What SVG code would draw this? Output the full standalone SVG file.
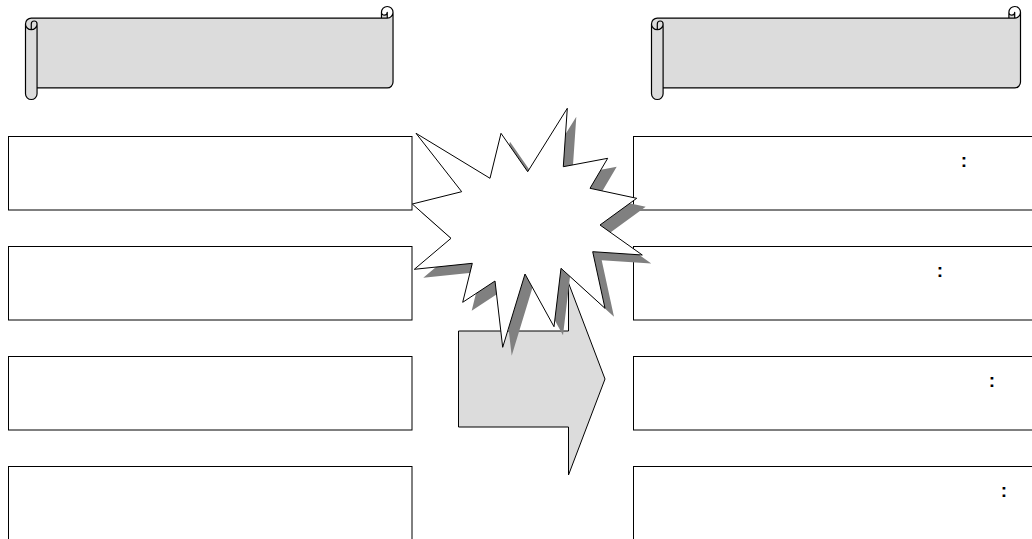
<svg xmlns="http://www.w3.org/2000/svg" width="1032" height="539" viewBox="0 0 1032 539">
<style>
.box{fill:#fff;stroke:#000;stroke-width:1}
.scrollfill{fill:#dcdcdc;stroke:none}
.scrollline{fill:none;stroke:#000;stroke-width:1.2;stroke-linejoin:round}
.gray{fill:#dcdcdc;stroke:#000;stroke-width:1}
.shadow{fill:#808080;stroke:none}
.star{fill:#fff;stroke:#000;stroke-width:1}
.colon{font-family:"Liberation Sans",Arial,sans-serif;font-size:19px;font-weight:bold;fill:#000;text-anchor:middle}
</style>
<defs>
<g id="scrollShape">
<path class="scrollfill" d="M369,5.8 A5.8,5.8 0 0 1 363.2,11.6 L363.2,5.8 A2.9,2.9 0 0 1 357.4,5.8 L357.4,11.6 L5.8,11.6 A5.8,5.8 0 0 0 0,17.4 L0,87.2 A5.8,5.8 0 0 0 11.6,87.2 L11.6,81.4 L363.2,81.4 A5.8,5.8 0 0 0 369,75.6 Z M5.8,23.2 A5.8,5.8 0 0 0 11.6,17.4 A2.9,2.9 0 0 0 5.8,17.4 Z"/>
<path class="scrollline" d="M0,17.4 A5.8,5.8 0 0 1 5.8,11.6 L357.4,11.6 L357.4,5.8 A5.8,5.8 0 0 1 369,5.8 L369,75.6 A5.8,5.8 0 0 1 363.2,81.4 L11.6,81.4 L11.6,87.2 A5.8,5.8 0 0 1 0,87.2 Z M357.4,11.6 L363.2,11.6 A5.8,5.8 0 0 0 369,5.8 M363.2,11.6 L363.2,5.8 A2.9,2.9 0 0 1 357.4,5.8 M5.8,23.2 L5.8,17.4 A2.9,2.9 0 0 1 11.6,17.4 A5.8,5.8 0 0 1 0,17.4 M11.6,17.4 L11.6,81.4"/>
</g>
</defs>
<g id="title-left" transform="translate(25.5,6.5) scale(0.996,1)">
<use href="#scrollShape"/>
</g>
<g id="title-right" transform="translate(651.5,6.5)">
<use href="#scrollShape"/>
</g>
<g id="left-box-1"><rect class="box" x="8.5" y="136.5" width="403.5" height="73.5"/></g>
<g id="left-box-2"><rect class="box" x="8.5" y="246.5" width="403.5" height="73.5"/></g>
<g id="left-box-3"><rect class="box" x="8.5" y="356.5" width="403.5" height="73.5"/></g>
<g id="left-box-4"><rect class="box" x="8.5" y="466.5" width="403.5" height="73.5"/></g>
<g id="right-box-1"><rect class="box" x="633.5" y="136.5" width="410" height="73.5"/><text class="colon" x="964" y="167">:</text></g>
<g id="right-box-2"><rect class="box" x="633.5" y="246.5" width="410" height="73.5"/><text class="colon" x="940" y="277">:</text></g>
<g id="right-box-3"><rect class="box" x="633.5" y="356.5" width="410" height="73.5"/><text class="colon" x="992" y="387">:</text></g>
<g id="right-box-4"><rect class="box" x="633.5" y="466.5" width="410" height="73.5"/><text class="colon" x="1004" y="497">:</text></g>
<g id="arrow"><polygon class="gray" points="458.5,331 568.5,331 568.5,283 605,379 568.5,475 568.5,427 458.5,427"/></g>
<g id="burst">
<polygon class="shadow" transform="translate(9,8.5)" points="416,133.3 490,178.3 501,133.3 527.7,171.7 567.3,108.3 563.3,166.7 607.7,158.3 590,188.3 636.7,198.3 600,225 642.3,255 592.7,251.7 605,308.3 561,268.3 554,326.7 525,274 502.7,347.3 495,281 462.7,302.3 472.3,263.3 414.3,269.3 451,238.3 412.3,204 461.7,191.7"/>
<polygon class="star" points="416,133.3 490,178.3 501,133.3 527.7,171.7 567.3,108.3 563.3,166.7 607.7,158.3 590,188.3 636.7,198.3 600,225 642.3,255 592.7,251.7 605,308.3 561,268.3 554,326.7 525,274 502.7,347.3 495,281 462.7,302.3 472.3,263.3 414.3,269.3 451,238.3 412.3,204 461.7,191.7"/>
</g>
<g id="connectors"></g>
</svg>
